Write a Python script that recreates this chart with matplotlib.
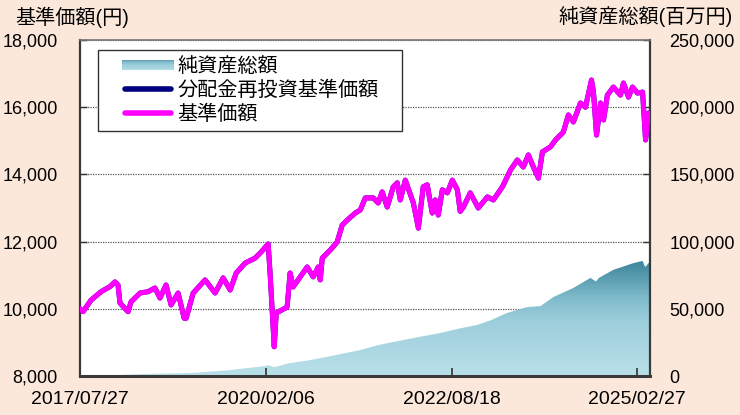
import numpy as np
import pandas as pd
import matplotlib
matplotlib.use('Agg')
import matplotlib.pyplot as plt
import matplotlib.dates as mdates
from matplotlib.colors import LinearSegmentedColormap
from matplotlib.legend_handler import HandlerBase
from matplotlib.patches import Rectangle
from matplotlib.lines import Line2D
from matplotlib.ticker import FuncFormatter

plt.rcParams['font.family'] = ['Liberation Sans', 'Noto Sans CJK JP']

# ---------------- data ----------------
price_dates = [
    '2017-07-27', '2017-08-11', '2017-09-20', '2017-11-09', '2017-12-23', '2018-01-17',
    '2018-02-01', '2018-02-11', '2018-03-23', '2018-04-07', '2018-05-22', '2018-07-01',
    '2018-08-04', '2018-08-29', '2018-09-28', '2018-10-23', '2018-11-27', '2018-12-27',
    '2019-01-06', '2019-02-10', '2019-04-10', '2019-05-30', '2019-07-09', '2019-08-13',
    '2019-09-12', '2019-10-26', '2019-12-15', '2020-01-14', '2020-02-18', '2020-02-28',
    '2020-03-19', '2020-03-29', '2020-05-22', '2020-06-06', '2020-06-21', '2020-08-30',
    '2020-09-29', '2020-10-24', '2020-11-03', '2020-11-13', '2020-12-23', '2021-01-26',
    '2021-02-20', '2021-03-17', '2021-04-26', '2021-05-21', '2021-06-15', '2021-07-25',
    '2021-08-18', '2021-09-07', '2021-10-02', '2021-11-01', '2021-11-21', '2021-12-06',
    '2021-12-31', '2022-02-09', '2022-03-06', '2022-03-30', '2022-04-19', '2022-05-14',
    '2022-05-29', '2022-06-13', '2022-07-03', '2022-07-28', '2022-08-22', '2022-09-16',
    '2022-09-30', '2022-10-16', '2022-11-19', '2022-12-29', '2023-02-12', '2023-03-14',
    '2023-04-28', '2023-06-07', '2023-07-11', '2023-08-10', '2023-09-04', '2023-09-29',
    '2023-10-24', '2023-11-13', '2023-12-23', '2024-01-17', '2024-02-25', '2024-03-21',
    '2024-04-15', '2024-05-20', '2024-06-14', '2024-07-14', '2024-07-24', '2024-08-08',
    '2024-08-28', '2024-09-12', '2024-10-01', '2024-10-31', '2024-12-05', '2024-12-20',
    '2025-01-14', '2025-02-03', '2025-02-28', '2025-03-25', '2025-04-09', '2025-04-24',
    '2025-05-01',
]
price_values = [
    10000, 9915, 10260, 10510, 10660, 10800,
    10710, 10170, 9915, 10210, 10470, 10510,
    10620, 10320, 10710, 10115, 10470, 9720,
    9720, 10470, 10860, 10470, 10920, 10560,
    11065, 11360, 11510, 11690, 11930, 11000,
    8870, 9875, 10050, 11065, 10650, 11245,
    10950, 11245, 10860, 11510, 11750, 11990,
    12490, 12640, 12850, 12940, 13300, 13300,
    13150, 13480, 13030, 13630, 13750, 13240,
    13830, 13150, 12400, 13630, 13690, 12850,
    13240, 12790, 13540, 13450, 13830, 13540,
    12900, 13030, 13450, 13000, 13330, 13240,
    13630, 14130, 14430, 14220, 14580, 14220,
    13890, 14670, 14820, 15025, 15260, 15770,
    15560, 16125, 16000, 16810, 16450, 15170,
    16125, 15620, 16360, 16600, 16360, 16720,
    16300, 16600, 16420, 16450, 15025, 15830,
    15770,
]
# 分配金再投資基準価額 (no distributions -> identical to 基準価額)
reinvest_values = list(price_values)

nav_dates = [
    '2017-07-27', '2018-01-15', '2018-06-15', '2019-01-26', '2019-08-01', '2020-02-03',
    '2020-02-20', '2020-03-19', '2020-06-01', '2020-09-01', '2020-12-15', '2021-05-21',
    '2021-08-18', '2021-11-01', '2022-03-15', '2022-06-23', '2022-10-01', '2022-12-24',
    '2023-03-01', '2023-05-23', '2023-08-30', '2023-11-03', '2024-01-07', '2024-04-15',
    '2024-07-09', '2024-08-05', '2024-08-20', '2024-10-31', '2025-02-08', '2025-03-25',
    '2025-04-07', '2025-04-24', '2025-05-01',
]
nav_values = [
    0, 600, 1500, 2200, 4200, 7400,
    8000, 6500, 9500, 11500, 14500, 19300,
    23000, 25300, 29200, 32000, 35500, 38000,
    41500, 47000, 51300, 52000, 58800, 65500,
    73000, 70300, 73000, 79000, 84000, 85600,
    81000, 84000, 84500,
]

x_tick_dates = ['2017-07-27', '2020-02-06', '2022-08-18', '2025-02-27']
x_tick_labels = ['2017/07/27', '2020/02/06', '2022/08/18', '2025/02/27']
left_ticks = [8000, 10000, 12000, 14000, 16000, 18000]
right_ticks = [0, 50000, 100000, 150000, 200000, 250000]

legend_labels = ['純資産総額', '分配金再投資基準価額', '基準価額']
left_title = '基準価額(円)'
right_title = '純資産総額(百万円)'

# ---------------- figure ----------------
BG = '#FCE8DA'
fig = plt.figure(figsize=(7.4, 4.15), dpi=100, facecolor=BG)
ax1 = fig.add_axes([80 / 740, 1 - 376 / 415, 570 / 740, 336 / 415])
ax2 = ax1.twinx()

pd_dates = pd.to_datetime(price_dates)
nd = pd.to_datetime(nav_dates)
xmin = pd.Timestamp('2017-07-27')
xmax = pd.Timestamp('2025-05-01')

# layering: ax2 (area) below ax1 (lines)
ax2.set_zorder(1)
ax1.set_zorder(2)
ax1.patch.set_visible(False)
ax2.patch.set_visible(True)
ax2.patch.set_facecolor('white')

# gradient area on ax2
poly = ax2.fill_between(nd, nav_values, 0, facecolor='none', edgecolor='none', lw=0)
cmap = LinearSegmentedColormap.from_list(
    'nav', [(0.0, '#B9E0E9'), (0.45, '#9ECFDC'), (0.65, '#80BCCC'), (1.0, '#357F95')])
grad = np.linspace(0, 1, 256).reshape(-1, 1)
x0n, x1n = mdates.date2num(xmin), mdates.date2num(xmax)
img = ax2.imshow(grad, extent=[x0n, x1n, 0, 88000], origin='lower', aspect='auto',
                 cmap=cmap, zorder=2, interpolation='bilinear')
img.set_clip_path(poly.get_paths()[0], transform=ax2.transData)

ax2.set_ylim(0, 250000)
ax2.set_yticks(right_ticks)
ax2.yaxis.set_major_formatter(FuncFormatter(lambda v, p: f'{v:,.0f}'))
ax2.tick_params(axis='y', direction='in', length=5, width=1, color='#333333',
                labelsize=13, pad=14)
ax2.grid(axis='y', linestyle=(0, (1, 1)), color='#555555', linewidth=0.9, zorder=0)
ax2.set_axisbelow(True)
for s in ax2.spines.values():
    s.set_visible(False)

# lines on ax1
ax1.plot(pd_dates, reinvest_values, color='#000080', lw=3.6, solid_joinstyle='round', zorder=3)
ax1.plot(pd_dates, price_values, color='#FF00FF', lw=3.6, solid_joinstyle='round', zorder=4)

ax1.set_xlim(xmin, xmax)
ax2.set_xlim(xmin, xmax)
ax1.set_ylim(8000, 18000)
ax1.set_yticks(left_ticks)
ax1.yaxis.set_major_formatter(FuncFormatter(lambda v, p: f'{v:,.0f}'))
ax1.tick_params(axis='y', direction='in', length=5, width=1, color='#333333',
                labelsize=13, pad=16)
ax1.set_xticks(pd.to_datetime(x_tick_dates))
ax1.set_xticklabels(x_tick_labels)
ax1.tick_params(axis='x', direction='in', length=6, width=1.2, color='#333333',
                labelsize=14, pad=11)
for name, s in ax1.spines.items():
    s.set_color('#3a3a3a')
    s.set_linewidth(1.6)
ax1.spines['top'].set_color('#777777')
ax1.spines['top'].set_linewidth(1.2)
ax1.spines['bottom'].set_linewidth(2.2)


# legend handlers
class GradHandler(HandlerBase):
    def create_artists(self, legend, orig_handle, xdescent, ydescent, width, height,
                       fontsize, trans):
        x0 = -xdescent + 0.25 * width
        w = 0.75 * width
        h = height * 0.75
        y0 = -ydescent + (height - h) / 2
        n = 12
        arts = []
        for i in range(n):
            c = cmap(0.8 - 0.65 * i / (n - 1))
            r = Rectangle((x0, y0 + h * (n - 1 - i) / n), w, h / n + 0.05,
                          facecolor=c, edgecolor='none', transform=trans)
            arts.append(r)
        return arts


class LineHandler(HandlerBase):
    def create_artists(self, legend, orig_handle, xdescent, ydescent, width, height,
                       fontsize, trans):
        y = -ydescent + height / 2
        ln = Line2D([-xdescent + 0.25 * width + 2, -xdescent + width - 2], [y, y],
                    color=orig_handle.get_color(), lw=4, solid_capstyle='round',
                    transform=trans)
        return [ln]


h_area = Rectangle((0, 0), 1, 1)
h_re = Line2D([], [], color='#000080')
h_pr = Line2D([], [], color='#FF00FF')
leg = ax1.legend([h_area, h_re, h_pr], legend_labels,
                 handler_map={Rectangle: GradHandler(), Line2D: LineHandler()},
                 loc='upper left', mode='expand',
                 bbox_to_anchor=(98 / 740, 1 - 125 / 415, 304 / 740, 75 / 415),
                 bbox_transform=fig.transFigure, borderaxespad=0,
                 fontsize=14.5, handlelength=3.4, handletextpad=0.2,
                 labelspacing=0.22, borderpad=0.35, fancybox=False,
                 framealpha=1, edgecolor='#333333')
leg.get_frame().set_linewidth(1.0)

fig.text(15 / 740, 1 - 17 / 415, left_title, fontsize=14.5, ha='left', va='center')
fig.text(733 / 740, 1 - 17 / 415, right_title, fontsize=14.5, ha='right', va='center')

fig.savefig('out.png', dpi=100, facecolor=BG)
